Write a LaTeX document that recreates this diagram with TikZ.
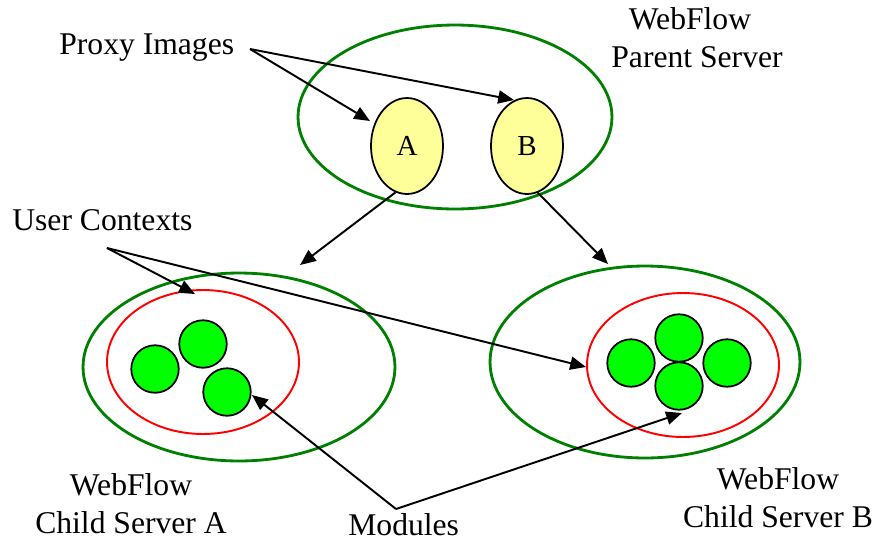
\documentclass[tikz,border=0pt]{standalone}
\usepackage{fontspec}
\setmainfont{Liberation Serif}
\usetikzlibrary{arrows.meta,shapes.geometric}
\definecolor{dgreen}{RGB}{0,128,0}
\definecolor{lgreen}{RGB}{0,255,0}
\definecolor{pyellow}{RGB}{255,255,153}
\begin{document}
\begin{tikzpicture}[x=0.02cm,y=-0.02cm,
  server/.style={draw=dgreen,line width=1.6pt,ellipse,inner sep=0pt},
  context/.style={draw=red,line width=1.1pt,ellipse,inner sep=0pt,minimum width=3.84cm,minimum height=2.88cm},
  proxyimg/.style={draw=black,line width=1pt,fill=pyellow,ellipse,inner sep=0pt,minimum width=1.44cm,minimum height=1.92cm,font=\fontsize{16.5}{19}\selectfont},
  module/.style={draw=black,line width=1pt,fill=lgreen,circle,inner sep=0pt,minimum size=0.95cm},
  lbl/.style={inner sep=0pt,font=\fontsize{18}{21.5}\selectfont},
  arr/.style={draw=black,line width=1.1pt,-{Triangle[length=9pt,width=7.5pt]}}]
\useasboundingbox (0,0) rectangle (876,542);
% servers
\node[server,minimum width=6.28cm,minimum height=3.68cm] (parent) at (455,117) {};
\node[server,minimum width=6.24cm,minimum height=3.76cm] (childA) at (239,367) {};
\node[server,minimum width=6.2cm,minimum height=3.84cm] (childB) at (645,362) {};
% contexts
\node[context] (ctxA) at (203,362) {};
\node[context] (ctxB) at (683,365) {};
% proxy images
\node[proxyimg] (pa) at (407,146) {A};
\node[proxyimg] (pb) at (527,146) {B};
% modules
\node[module] (mA1) at (155,369) {};
\node[module] (mA2) at (203,344) {};
\node[module] (mA3) at (227,392) {};
\node[module] (mB1) at (631,363) {};
\node[module] (mB2) at (679,338) {};
\node[module] (mB3) at (679,386) {};
\node[module] (mB4) at (727,363) {};
% labels
\node[lbl,anchor=base west] (proxylbl) at (59,54) {Proxy Images};
\node[lbl,anchor=base west] (userlbl) at (12,230) {User Contexts};
\node[lbl,anchor=base west] (modlbl) at (348,535) {Modules};
\node[lbl,anchor=north,align=center] (parentlbl) at (697,7) {WebFlow\hspace*{0.28cm}\\Parent Server};
\node[lbl,anchor=north,align=center] (childAlbl) at (131,473) {WebFlow\\Child Server A};
\node[lbl,anchor=north,align=center] (childBlbl) at (778,467) {WebFlow\\Child Server B};
% free ends
\coordinate (pstart) at (250,49);
\coordinate (pendA) at (370,121);
\coordinate (pendB) at (514,100);
\coordinate (ustart) at (107,248);
\coordinate (uendA) at (195,294);
\coordinate (uendB) at (586,367);
\coordinate (mstart) at (396,509);
\coordinate (mendA) at (252,395);
\coordinate (mendB) at (682,413);
\coordinate (cendA) at (300,265);
\coordinate (cendB) at (608,264);
% connectors
\draw[arr] (pstart) -- (pendA);
\draw[arr] (pstart) -- (pendB);
\draw[arr] (ustart) -- (uendA);
\draw[arr] (ustart) -- (uendB);
\draw[arr] (mstart) -- (mendA);
\draw[arr] (mstart) -- (mendB);
\draw[arr] (pa.-104) -- (cendA);
\draw[arr] (pb.-77) -- (cendB);
\end{tikzpicture}
\end{document}
